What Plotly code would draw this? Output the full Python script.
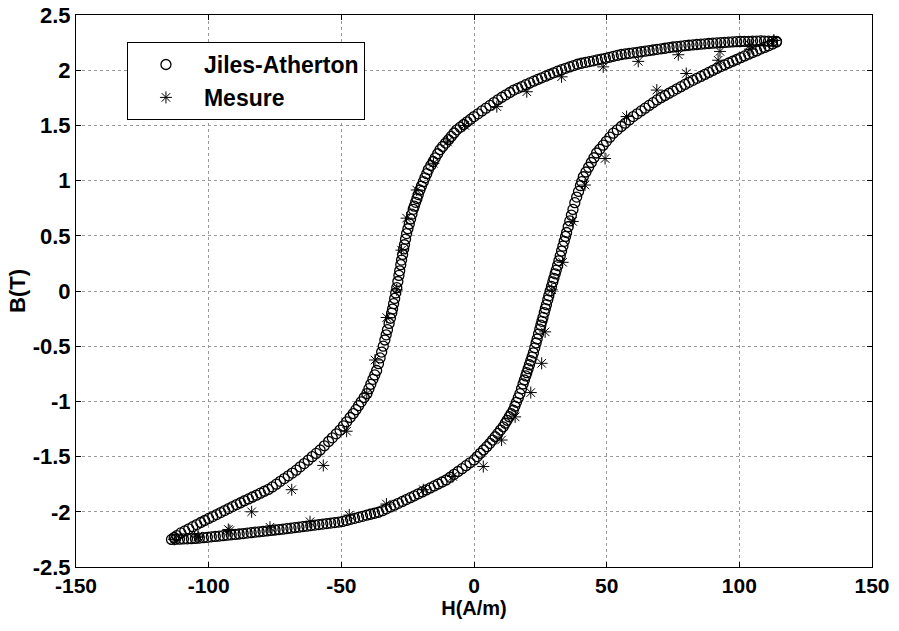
import plotly.graph_objects as go

# ---------------- Jiles-Atherton model (circles) ----------------
# descending branch (from positive tip to negative tip)
ja_desc_H = [114, 112.5, 111, 109.5, 108, 106.5, 105, 103.5, 102, 100.5, 99, 97.5, 96, 94.5, 93, 91.5, 90,
             88.5, 87, 85.5, 84, 82.5, 81, 79.5, 78, 76.5, 75, 73.5, 72, 70.5, 69, 67.5, 66, 64.5, 63, 61.5, 60,
             58.5, 57, 55.5, 54, 52.5, 51, 49.5, 48, 46.5, 45, 43.5, 42, 40.5, 39, 37.5, 36, 34.5, 33, 31.5, 30,
             28.5, 27, 25.5, 24, 22.5, 21, 19.5, 18, 16.5, 15, 13.5, 12, 10.5, 9, 7.5, 6, 4.5, 3, 1.5, 0,
             -1.3, -2.6, -3.9, -5.2, -6.5, -7.5, -8.6, -9.6, -10.7, -11.8, -12.8, -13.7, -14.6, -15.4, -16.3,
             -17.2, -17.8, -18.5, -19.1, -19.8, -20.4,
             -21.0, -21.5, -22.0, -22.5, -22.9, -23.4, -23.9, -24.4, -24.9, -25.4, -25.8, -26.2, -26.5, -26.9,
             -27.3, -27.6, -28.0, -28.3, -28.7, -29.1, -29.5, -29.9, -30.3, -30.7, -31.0, -31.5, -32.0, -32.6,
             -33.1, -33.6, -34.2, -34.8, -35.4, -36.0, -36.7,
             -37.4, -38.1, -38.9, -39.6, -40.4, -41.4, -42.5, -43.5, -44.5, -45.5, -46.7, -48.0, -49.2, -50.5,
             -51.9, -53.4, -54.8, -56.4, -58.0,
             -59.5, -61.0, -62.5, -64.0, -65.5, -67.0, -68.5, -70.0, -71.5, -73.0, -74.5, -76.0, -77.5, -79.0,
             -80.5, -82.0, -83.5, -85.0, -86.5, -88.0, -89.5, -91.0, -92.5, -94.0, -95.5, -97.0, -98.5, -100.0,
             -101.5, -103.0, -104.5, -106.0, -107.5, -109.0, -110.5, -112.0, -113.0, -114.0]
ja_desc_B = [2.260, 2.262, 2.263, 2.264, 2.265, 2.264, 2.263, 2.262, 2.261, 2.260, 2.258, 2.256, 2.254, 2.252,
             2.249, 2.247, 2.245, 2.242, 2.239, 2.236, 2.233, 2.229, 2.226, 2.222, 2.218, 2.214, 2.210, 2.205,
             2.199, 2.194, 2.189, 2.183, 2.178, 2.172, 2.167, 2.162, 2.157, 2.152, 2.147, 2.142, 2.134, 2.126,
             2.117, 2.108, 2.101, 2.093, 2.085, 2.078, 2.070, 2.063, 2.054, 2.042, 2.030, 2.017, 2.005, 1.991,
             1.976, 1.961, 1.946, 1.931, 1.916, 1.901, 1.885, 1.869, 1.852, 1.836, 1.820, 1.798, 1.777, 1.755,
             1.732, 1.707, 1.681, 1.656, 1.631, 1.605, 1.580,
             1.556, 1.532, 1.508, 1.484, 1.460, 1.431, 1.400, 1.370, 1.340, 1.310, 1.280, 1.243, 1.206, 1.173,
             1.137, 1.100, 1.063, 1.025, 0.990, 0.950, 0.915,
             0.873, 0.838, 0.803, 0.768, 0.740, 0.696, 0.652, 0.608, 0.564, 0.520, 0.469, 0.419, 0.381, 0.331,
             0.280, 0.238, 0.183, 0.141, 0.086, 0.030, -0.018, -0.067, -0.115, -0.164, -0.200, -0.247, -0.294,
             -0.350, -0.397, -0.444, -0.500, -0.553, -0.606, -0.658, -0.720,
             -0.760, -0.800, -0.845, -0.885, -0.930, -0.965, -1.004, -1.039, -1.075, -1.110, -1.146, -1.185,
             -1.221, -1.260, -1.294, -1.330, -1.363, -1.402, -1.440,
             -1.471, -1.501, -1.532, -1.563, -1.593, -1.623, -1.649, -1.674, -1.699, -1.724, -1.750, -1.775,
             -1.797, -1.814, -1.831, -1.849, -1.866, -1.883, -1.900, -1.918, -1.935, -1.953, -1.971, -1.989,
             -2.007, -2.025, -2.043, -2.060, -2.079, -2.097, -2.116, -2.135, -2.154, -2.173, -2.191, -2.216,
             -2.233, -2.250]

# ascending branch (from negative tip to positive tip)
ja_asc_H = [-112.5, -111, -109.5, -108, -106.5, -105, -103.5, -102, -100.5, -99, -97.5, -96, -94.5, -93, -91.5,
            -90, -88.5, -87, -85.5, -84, -82.5, -81, -79.5, -78, -76.5, -75, -73.5, -72, -70.5, -69, -67.5, -66,
            -64.5, -63, -61.5, -60, -58.5, -57, -55.5, -54, -52.5, -51, -49.5, -48, -46.5, -45, -43.5, -42,
            -40.5, -39, -37.5, -36, -34.5, -33, -31.5, -30, -28.5, -27, -25.5, -24, -22.5, -21, -19.5, -18,
            -16.5, -15, -13.5, -12, -10.5, -9, -7.5, -6, -4.5, -3, -1.5, 0,
            1.2, 2.4, 3.6, 4.8, 6.0, 7.0, 8.0, 9.0, 10.0, 11.0, 11.8, 12.5, 13.3, 14.0, 14.8, 15.4, 16.0, 16.7,
            17.3,
            17.9, 18.5, 19.0, 19.5, 19.9, 20.4, 20.9, 21.4, 21.9, 22.4, 22.9, 23.4, 23.8, 24.3, 24.8, 25.2, 25.6,
            26.0, 26.5, 26.9, 27.3, 27.8, 28.2, 28.7, 29.2, 29.7, 30.1, 30.6, 31.0, 31.5, 32.0, 32.5, 33.0, 33.5,
            34.0, 34.5, 34.9, 35.5, 36.1, 36.7, 37.3, 38.0, 38.7, 39.4, 40.1, 40.6, 41.2,
            42.2, 43.2, 44.2, 45.2, 46.2, 47.4, 48.7, 49.9, 51.2, 52.5, 54.0, 55.5, 57.0, 58.5, 60.0,
            61.5, 63, 64.5, 66, 67.5, 69, 70.5, 72, 73.5, 75, 76.5, 78, 79.5, 81, 82.5, 84, 85.5, 87, 88.5, 90,
            91.5, 93, 94.5, 96, 97.5, 99, 100.5, 102, 103.5, 105, 106.5, 108, 109.5, 111, 112.5, 114]
ja_asc_B = [-2.249, -2.248, -2.246, -2.245, -2.243, -2.241, -2.238, -2.234, -2.231, -2.227, -2.223, -2.220,
            -2.216, -2.212, -2.209, -2.205, -2.201, -2.197, -2.193, -2.189, -2.185, -2.181, -2.177, -2.173,
            -2.169, -2.165, -2.161, -2.157, -2.152, -2.148, -2.143, -2.139, -2.134, -2.130, -2.125, -2.120,
            -2.116, -2.111, -2.107, -2.102, -2.098, -2.093, -2.087, -2.078, -2.068, -2.059, -2.050, -2.041,
            -2.031, -2.022, -2.013, -2.004, -1.990, -1.973, -1.956, -1.940, -1.923, -1.906, -1.889, -1.872,
            -1.855, -1.837, -1.820, -1.802, -1.784, -1.766, -1.748, -1.730, -1.712, -1.687, -1.661, -1.635,
            -1.609, -1.582, -1.556, -1.530,
            -1.500, -1.470, -1.440, -1.410, -1.380, -1.350, -1.320, -1.290, -1.260, -1.230, -1.198, -1.171,
            -1.139, -1.112, -1.080, -1.044, -1.008, -0.966, -0.930,
            -0.886, -0.842, -0.806, -0.769, -0.740, -0.704, -0.668, -0.632, -0.596, -0.560, -0.515, -0.471,
            -0.435, -0.390, -0.346, -0.310, -0.275, -0.239, -0.195, -0.159, -0.124, -0.080, -0.044, 0.000,
            0.041, 0.082, 0.115, 0.156, 0.189, 0.230, 0.274, 0.318, 0.362, 0.406, 0.450, 0.494, 0.530, 0.582,
            0.635, 0.687, 0.739, 0.800, 0.851, 0.902, 0.954, 0.990, 1.035,
            1.078, 1.121, 1.164, 1.207, 1.250, 1.284, 1.321, 1.356, 1.393, 1.430, 1.460, 1.490, 1.520, 1.550,
            1.580,
            1.605, 1.631, 1.656, 1.681, 1.706, 1.731, 1.751, 1.771, 1.791, 1.811, 1.831, 1.851, 1.871, 1.890,
            1.908, 1.926, 1.944, 1.962, 1.980, 1.998, 2.016, 2.033, 2.049, 2.065, 2.081, 2.097, 2.113, 2.129,
            2.145, 2.160, 2.175, 2.191, 2.206, 2.221, 2.237, 2.255]

# ---------------- Measurement (stars) ----------------
mes_desc_H = [113, 104, 92.7, 77.0, 61.9, 48.7, 33.0, 19.9, 8.6, -3.5, -10.0, -15.3, -21.6, -25.4, -27.3,
              -29.1, -32.9, -37.3, -40.4, -48.0, -56.8, -68.7, -83.8, -92.6, -104, -113]
mes_desc_B = [2.27, 2.23, 2.17, 2.14, 2.08, 2.03, 1.94, 1.805, 1.67, 1.50, 1.35, 1.157, 0.915, 0.66, 0.37,
              0.01, -0.24, -0.625, -0.93, -1.27, -1.58, -1.80, -2.00, -2.16, -2.22, -2.25]
mes_asc_H = [-104, -92, -76.9, -61.8, -47, -33, -19.1, -8, 3.5, 10.4, 15.5, 21.4, 25.5, 26.8, 29.3, 33.4,
             37.2, 41.8, 49.4, 57.5, 68.9, 80, 92, 104, 113]
mes_asc_B = [-2.23, -2.17, -2.14, -2.09, -2.03, -1.93, -1.80, -1.68, -1.59, -1.35, -1.14, -0.92, -0.655,
             -0.37, 0.01, 0.26, 0.63, 0.96, 1.20, 1.58, 1.82, 1.97, 2.09, 2.19, 2.27]

x_ticks = [-150, -100, -50, 0, 50, 100, 150]
x_tick_labels = ["-150", "-100", "-50", "0", "50", "100", "150"]
y_ticks = [-2.5, -2, -1.5, -1, -0.5, 0, 0.5, 1, 1.5, 2, 2.5]
y_tick_labels = ["-2.5", "-2", "-1.5", "-1", "-0.5", "0", "0.5", "1", "1.5", "2", "2.5"]

FONT = "Arial, Liberation Sans, Helvetica, sans-serif"

fig = go.Figure()
fig.add_trace(go.Scatter(
    x=ja_desc_H + ja_asc_H, y=ja_desc_B + ja_asc_B, mode="markers", name="Jiles-Atherton",
    marker=dict(symbol="circle-open", size=10, color="black", line=dict(width=1.3, color="black")),
))
fig.add_trace(go.Scatter(
    x=mes_desc_H + mes_asc_H, y=mes_desc_B + mes_asc_B, mode="markers", name="Mesure",
    marker=dict(symbol="asterisk-open", size=10, color="black", line=dict(width=1, color="black")),
))

axis_common = dict(
    showline=True, linecolor="black", linewidth=1, mirror="allticks",
    ticks="inside", ticklen=5, tickcolor="black", tickwidth=1,
    showgrid=True, gridcolor="#9a9a9a", gridwidth=1, griddash="dot",
    zeroline=False, automargin=True,
)

fig.update_xaxes(range=[-150, 150], tickvals=x_ticks, ticktext=x_tick_labels,
                 tickfont=dict(family=FONT, size=21, color="black", weight="bold"),
                 title=dict(text="H(A/m)", font=dict(family=FONT, size=20, color="black", weight="bold"),
                            standoff=0),
                 **axis_common)
fig.update_yaxes(range=[-2.5, 2.5], tickvals=y_ticks, ticktext=y_tick_labels,
                 tickfont=dict(family=FONT, size=22, color="black", weight="bold"),
                 title=dict(text="B(T)", font=dict(family=FONT, size=22, color="black", weight="bold"),
                            standoff=0),
                 **axis_common)

fig.update_layout(
    width=899, height=631,
    margin=dict(l=76, r=27, t=15, b=64, autoexpand=False),
    paper_bgcolor="white", plot_bgcolor="white",
    font=dict(family=FONT, color="black"),
    legend=dict(
        x=0.064, y=0.951, xanchor="left", yanchor="top",
        bgcolor="white", bordercolor="black", borderwidth=1,
        font=dict(family=FONT, size=23, color="black", weight="bold"),
        itemwidth=66, tracegroupgap=4,
    ),
)

# remove the page's default body margin so the figure fills the window exactly
fig.write_html("out.html", config={"displayModeBar": False},
               post_script="document.body.style.margin='0';")
